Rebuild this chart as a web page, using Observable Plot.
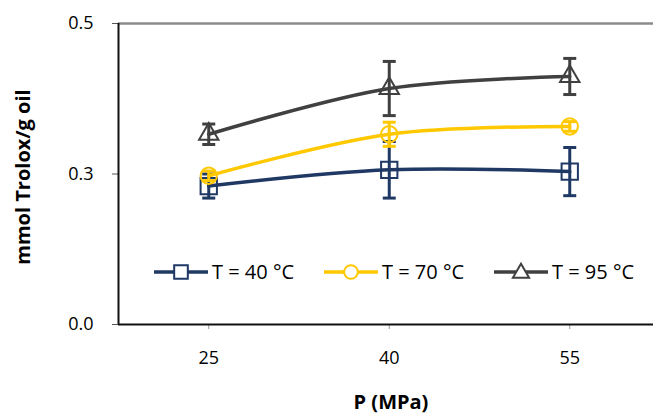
<!DOCTYPE html>
<html>
<head>
<meta charset="utf-8">
<script src="https://cdn.jsdelivr.net/npm/d3@7"></script>
<script src="https://cdn.jsdelivr.net/npm/@observablehq/plot@0.6"></script>
<style>
  html, body { margin: 0; padding: 0; background: #fff; }
  #wrap { position: relative; width: 653px; height: 419px; font-family: "Open Sans", sans-serif; }
  #legend { position: absolute; left: 0; top: 0; width: 653px; height: 419px; pointer-events: none; }
</style>
</head>
<body>
<div id="wrap"></div>
<script>
// ---- data ----
const pressures = [25, 40, 55];
const seriesNames = ["T = 40 °C", "T = 70 °C", "T = 95 °C"];
const t40 = [0.230, 0.257, 0.254];
const t40err = [0.020, 0.047, 0.040];
const t70 = [0.247, 0.316, 0.329];
const t70err = [0.008, 0.020, 0.008];
const t95 = [0.316, 0.392, 0.412];
const t95err = [0.017, 0.045, 0.030];
const yTicks = [0, 0.25, 0.5];
const yTickLabels = ["0.0", "0.3", "0.5"];
const xLabel = "P (MPa)";
const yLabel = "mmol Trolox/g oil";

const colors = ["#1f3864", "#ffc800", "#404040"];
const symbols = ["square", "circle", "triangle"];
const radii = [9.2, 8.2, 7.2];

const values = [t40, t70, t95];
const errs = [t40err, t70err, t95err];
const rows = [];
seriesNames.forEach((s, si) => {
  pressures.forEach((p, pi) => {
    rows.push({series: s, si, P: p, v: values[si][pi], lo: values[si][pi] - errs[si][pi], hi: values[si][pi] + errs[si][pi]});
  });
});

const cap = { draw(ctx) { ctx.moveTo(-6.5, 0); ctx.lineTo(6.5, 0); } };
const xDomain = [17.5, 61.96];

const marks = [
  Plot.ruleY([yTicks[2]], {stroke: "#8c8c8c", strokeWidth: 2.5}),
  Plot.axisY({ticks: yTicks, tickFormat: (d, i) => yTickLabels[i], tickSize: 6, tickPadding: 19, label: null, fontSize: 18, stroke: "#555"}),
  Plot.axisX({ticks: pressures, tickFormat: d => String(d), tickSize: 5, tickPadding: 22, label: null, fontSize: 18, stroke: "#999"}),
  Plot.ruleY([yTicks[0]], {stroke: "#111", strokeWidth: 2}),
  Plot.ruleX([xDomain[0]], {y1: yTicks[0], y2: yTicks[2], stroke: "#111", strokeWidth: 2}),
  Plot.text([yLabel], {frameAnchor: "left", textAnchor: "middle", rotate: -90, dx: -95, dy: 3, fontWeight: "bold", fontSize: 20}),
  Plot.text([xLabel], {frameAnchor: "bottom", dx: 5, dy: 84, fontWeight: "bold", fontSize: 20})
];

seriesNames.forEach((s, si) => {
  const d = rows.filter(r => r.si === si);
  marks.push(
    Plot.line(d, {x: "P", y: "v", stroke: colors[si], strokeWidth: 3.5, curve: "catmull-rom"}),
    Plot.dot(d, {x: "P", y: "v", symbol: symbols[si], r: radii[si], stroke: colors[si], strokeWidth: 2, fill: "none"}),
    Plot.ruleX(d, {x: "P", y1: "lo", y2: "hi", stroke: colors[si], strokeWidth: 3}),
    Plot.dot(d, {x: "P", y: "lo", symbol: cap, stroke: colors[si], strokeWidth: 3}),
    Plot.dot(d, {x: "P", y: "hi", symbol: cap, stroke: colors[si], strokeWidth: 3})
  );
});

const chart = Plot.plot({
  width: 653,
  height: 419,
  marginLeft: 118,
  marginRight: 0,
  marginTop: 23,
  marginBottom: 95,
  x: {domain: xDomain},
  y: {domain: [yTicks[0], yTicks[2]]},
  style: {fontFamily: "Open Sans, sans-serif", fontSize: "18px", color: "#000", background: "#fff", overflow: "visible"},
  marks
});

const wrap = document.getElementById("wrap");
wrap.appendChild(chart);

// legend overlay (inside plot area)
const legendPos = [154, 324, 494]; // left edges of swatches
const ns = "http://www.w3.org/2000/svg";
const lg = document.createElementNS(ns, "svg");
lg.setAttribute("id", "legend");
lg.setAttribute("width", 653);
lg.setAttribute("height", 419);
const ly = 272;
seriesNames.forEach((s, si) => {
  const x0 = legendPos[si];
  const line = document.createElementNS(ns, "line");
  line.setAttribute("x1", x0); line.setAttribute("x2", x0 + 54);
  line.setAttribute("y1", ly); line.setAttribute("y2", ly);
  line.setAttribute("stroke", colors[si]); line.setAttribute("stroke-width", 3.5);
  lg.appendChild(line);
  const sym = document.createElementNS(ns, "path");
  const symType = [d3.symbolSquare, d3.symbolCircle, d3.symbolTriangle][si];
  sym.setAttribute("d", d3.symbol(symType, Math.PI * radii[si] * radii[si] * 0.7)());
  sym.setAttribute("transform", `translate(${x0 + 27},${ly + (si === 2 ? 1 : 0)})`);
  sym.setAttribute("fill", "#fff");
  sym.setAttribute("stroke", colors[si]); sym.setAttribute("stroke-width", 2);
  lg.appendChild(sym);
  const t = document.createElementNS(ns, "text");
  t.setAttribute("x", x0 + 58); t.setAttribute("y", ly);
  t.setAttribute("dy", "0.35em");
  t.setAttribute("font-size", 20);
  t.setAttribute("font-family", "Open Sans, sans-serif");
  t.textContent = s;
  lg.appendChild(t);
});
wrap.appendChild(lg);
</script>
</body>
</html>
